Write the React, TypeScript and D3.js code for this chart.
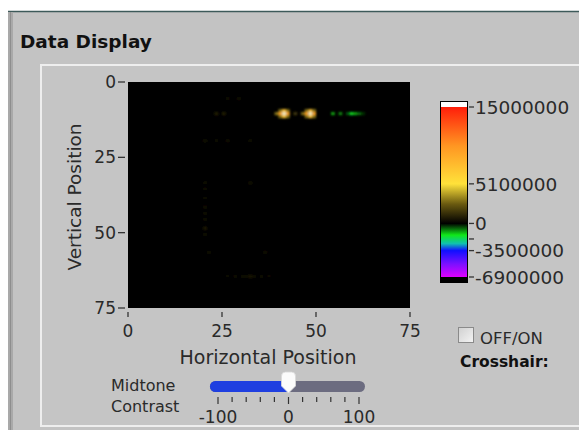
import React, { useEffect, useRef } from 'react';
import * as d3 from 'd3';

// intensity cells [column, row, value]; everything else is 0
const cellCols = [23, 25, 39, 44, 46,
	40, 42, 41, 41, 40, 42, 40, 42, 41,
	47, 49, 48, 48, 47, 49, 47, 49, 48,
	54, 56, 58, 59, 60, 61, 62,
	26, 29, 20, 23, 26, 32,
	20, 20, 20, 20, 20, 20, 20, 20, 32, 21, 36,
	26, 28, 30, 31, 32, 33, 35, 37];
const cellRows = [10, 10, 10, 10, 10,
	10, 10, 9, 11, 9, 9, 11, 11, 10,
	10, 10, 9, 11, 9, 9, 11, 11, 10,
	10, 10, 10, 10, 10, 10, 10,
	5, 5, 19, 19, 19, 19,
	33, 35, 38, 41, 43, 45, 48, 50, 33, 56, 56,
	64, 64, 64, 64, 64, 64, 64, 64];
const cellValues = [0.9e6, 0.9e6, 3.2e6, 1.6e6, 3.0e6,
	9e6, 9e6, 7e6, 7e6, 3e6, 3e6, 3e6, 3e6, 16e6,
	9e6, 9e6, 7e6, 7e6, 3e6, 3e6, 3e6, 3e6, 16e6,
	-1.1e6, -0.9e6, -0.6e6, -1.6e6, -1.1e6, -0.7e6, -0.35e6,
	0.35e6, 0.45e6, 0.55e6, 0.3e6, 0.45e6, 0.3e6,
	0.35e6, 0.3e6, 0.3e6, 0.4e6, 0.35e6, 0.4e6, 0.8e6, 0.4e6, 0.5e6, 0.35e6, 0.45e6,
	0.2e6, 0.25e6, 0.25e6, 0.3e6, 0.7e6, 0.3e6, 0.25e6, 0.2e6];

const axisTicks = [0, 25, 50, 75];

// colour ramp of the intensity scale
const rampValues = [-6.9e6, -5.2e6, -3.5e6, -2.6e6, -1.5e6, 0, 2.5e6, 5.1e6, 10e6, 15e6];
const rampColors = ['#e000ff', '#7a10ff', '#1010ff', '#10c0b0', '#10e818', '#000000', '#6a5a10', '#ffe23a', '#ff9622', '#ff1e0a'];
const barLabels = [15000000, 5100000, 0, -3500000, -6900000];
const barMinorTicks = [-2000000];

const sliderTicks = [-100, -80, -60, -40, -20, 0, 20, 40, 60, 80, 100];
const sliderLabels = [-100, 0, 100];
const sliderValue = 0;

const FONT = 'DejaVu Sans, Verdana, sans-serif';
const TEXT = '#2a2a2a';

export default function App() {
	const ref = useRef<SVGSVGElement>(null);

	useEffect(() => {
		const svg = d3.select(ref.current);
		svg.selectAll('*').remove();

		const color = d3.scaleLinear<string>()
			.domain(rampValues)
			.range(rampColors)
			.interpolate(d3.interpolateRgb)
			.clamp(true);
		// above the top of the scale the graph shows white, below the bottom black
		const colorOf = (v: number) => (v > 15e6 ? '#fff6c8' : v < -6.9e6 ? '#000' : color(v));

		// panels
		svg.append('rect').attr('width', 579).attr('height', 430).attr('fill', '#ffffff');
		svg.append('rect').attr('x', 8).attr('y', 11).attr('width', 571).attr('height', 419).attr('fill', '#c3c3c3');
		svg.append('line').attr('x1', 8).attr('x2', 579).attr('y1', 11.5).attr('y2', 11.5).attr('stroke', '#3d5a5a').attr('stroke-width', 1.5);
		svg.append('rect').attr('x', 8).attr('y', 12).attr('width', 5).attr('height', 418).attr('fill', '#a9a9a9');
		svg.append('line').attr('x1', 10.5).attr('x2', 10.5).attr('y1', 12).attr('y2', 430).attr('stroke', '#8e8e8e');
		svg.append('rect').attr('x', 41).attr('y', 65).attr('width', 545).attr('height', 361)
			.attr('fill', '#c5c5c5').attr('stroke', '#eeeeee').attr('stroke-width', 2);

		svg.append('text').attr('x', 20).attr('y', 48).text('Data Display')
			.attr('font-family', FONT).attr('font-weight', 'bold').attr('font-size', 18.5).attr('fill', '#111');

		// intensity plot
		const margin = { left: 128, top: 82 };
		const innerWidth = 282;
		const innerHeight = 226;
		const xScale = d3.scaleLinear().domain([0, 75]).range([0, innerWidth]);
		const yScale = d3.scaleLinear().domain([0, 75]).range([0, innerHeight]);

		const g = svg.append('g').attr('transform', 'translate(' + margin.left + ',' + margin.top + ')');
		g.append('rect').attr('width', innerWidth).attr('height', innerHeight).attr('fill', colorOf(0));

		const defs = svg.append('defs');
		defs.append('filter').attr('id', 'soft').attr('x', '-50%').attr('y', '-50%').attr('width', '200%').attr('height', '200%')
			.append('feGaussianBlur').attr('stdDeviation', 0.9);
		defs.append('clipPath').attr('id', 'plotclip').append('rect').attr('width', innerWidth).attr('height', innerHeight);

		const cells = cellCols.map((c, i) => ({ c, r: cellRows[i], v: cellValues[i] }))
			.sort((a, b) => Math.abs(a.v) - Math.abs(b.v));
		g.append('g').attr('clip-path', 'url(#plotclip)').append('g').attr('filter', 'url(#soft)')
			.selectAll('rect').data(cells).enter().append('rect')
			.attr('x', d => xScale(d.c))
			.attr('y', d => yScale(d.r))
			.attr('width', xScale(1) - xScale(0))
			.attr('height', yScale(1) - yScale(0))
			.attr('fill', d => colorOf(d.v));

		// axes
		const yAxisG = g.append('g');
		axisTicks.forEach(t => {
			yAxisG.append('line').attr('x1', -10).attr('x2', -3).attr('y1', yScale(t)).attr('y2', yScale(t))
				.attr('stroke', '#333').attr('stroke-width', 1.3);
			yAxisG.append('text').attr('x', -12).attr('y', yScale(t)).attr('dy', '0.36em').attr('text-anchor', 'end')
				.attr('font-family', FONT).attr('font-size', 17).attr('fill', TEXT).text(t);
		});
		const xAxisG = g.append('g').attr('transform', 'translate(0,' + innerHeight + ')');
		axisTicks.forEach(t => {
			xAxisG.append('line').attr('x1', xScale(t)).attr('x2', xScale(t)).attr('y1', 4).attr('y2', 9)
				.attr('stroke', '#333').attr('stroke-width', 1.3);
			xAxisG.append('text').attr('x', xScale(t)).attr('y', 29).attr('text-anchor', 'middle')
				.attr('font-family', FONT).attr('font-size', 17).attr('fill', TEXT).text(t);
		});
		svg.append('text').attr('x', 268).attr('y', 364).attr('text-anchor', 'middle')
			.attr('font-family', FONT).attr('font-size', 19).attr('fill', TEXT).text('Horizontal Position');
		svg.append('text').attr('transform', 'translate(81,197) rotate(-90)').attr('text-anchor', 'middle')
			.attr('font-family', FONT).attr('font-size', 18.5).attr('fill', TEXT).text('Vertical Position');

		// colour bar
		const barScale = d3.scaleLinear().domain([-6.9e6, 15e6]).range([277, 107]);
		const grad = defs.append('linearGradient').attr('id', 'ramp')
			.attr('gradientUnits', 'userSpaceOnUse').attr('x1', 0).attr('x2', 0)
			.attr('y1', barScale(-6.9e6)).attr('y2', barScale(15e6));
		rampValues.forEach((v, i) => {
			grad.append('stop').attr('offset', (v + 6.9e6) / 21.9e6).attr('stop-color', rampColors[i]);
		});
		const barX = 441;
		const barW = 26;
		svg.append('rect').attr('x', barX - 1).attr('y', 101).attr('width', barW + 2).attr('height', 182).attr('fill', '#000');
		svg.append('rect').attr('x', barX).attr('y', 102).attr('width', barW).attr('height', barScale(15e6) - 102).attr('fill', '#ffffff');
		svg.append('rect').attr('x', barX).attr('y', barScale(15e6)).attr('width', barW)
			.attr('height', barScale(-6.9e6) - barScale(15e6)).attr('fill', 'url(#ramp)');
		barLabels.concat(barMinorTicks).forEach(t => {
			svg.append('line').attr('x1', 469).attr('x2', 474).attr('y1', barScale(t)).attr('y2', barScale(t))
				.attr('stroke', '#333').attr('stroke-width', 1.3);
		});
		barLabels.forEach(t => {
			svg.append('text').attr('x', 475).attr('y', barScale(t)).attr('dy', '0.36em')
				.attr('font-family', FONT).attr('font-size', 18.5).attr('fill', TEXT).text(t);
		});

		// crosshair checkbox
		const cb = defs.append('linearGradient').attr('id', 'cbfill').attr('x1', 0).attr('x2', 1).attr('y1', 0).attr('y2', 1);
		cb.append('stop').attr('offset', 0).attr('stop-color', '#d0d0d0');
		cb.append('stop').attr('offset', 1).attr('stop-color', '#f4f4f4');
		svg.append('rect').attr('x', 458.5).attr('y', 327.5).attr('width', 15).attr('height', 15)
			.attr('fill', 'url(#cbfill)').attr('stroke', '#8a8a8a');
		svg.append('text').attr('x', 480).attr('y', 344).attr('font-family', FONT).attr('font-size', 16.5)
			.attr('fill', TEXT).text('OFF/ON');
		svg.append('text').attr('x', 460).attr('y', 367).attr('font-family', FONT).attr('font-weight', 'bold')
			.attr('font-size', 15.5).attr('fill', '#111').text('Crosshair:');

		// midtone contrast slider
		svg.append('text').attr('x', 111).attr('y', 391).attr('font-family', FONT).attr('font-size', 16)
			.attr('fill', TEXT).text('Midtone');
		svg.append('text').attr('x', 111).attr('y', 412).attr('font-family', FONT).attr('font-size', 16)
			.attr('fill', TEXT).text('Contrast');
		const sScale = d3.scaleLinear().domain([-100, 100]).range([218, 359]);
		const sx = sScale(sliderValue);
		svg.append('rect').attr('x', 210).attr('y', 381).attr('width', 155).attr('height', 11).attr('rx', 5.5).attr('fill', '#6c6c80');
		svg.append('path').attr('d', 'M215.5,381 H' + sx + ' V392 H215.5 A5.5,5.5 0 0 1 215.5,381 Z').attr('fill', '#1f3fe0');
		svg.append('path')
			.attr('d', 'M' + (sx - 7) + ',376 Q' + (sx - 7) + ',372 ' + (sx - 3) + ',372 H' + (sx + 3) + ' Q' + (sx + 7) + ',372 ' + (sx + 7) + ',376 V386 L' + sx + ',393 L' + (sx - 7) + ',386 Z')
			.attr('fill', '#fbfbfb').attr('stroke', '#d8d8d8').attr('stroke-width', 0.8);
		sliderTicks.forEach(t => {
			const major = sliderLabels.indexOf(t) >= 0;
			svg.append('line').attr('x1', sScale(t)).attr('x2', sScale(t)).attr('y1', 397).attr('y2', major ? 404 : 402)
				.attr('stroke', '#333').attr('stroke-width', 1.2);
		});
		sliderLabels.forEach(t => {
			svg.append('text').attr('x', sScale(t)).attr('y', 423).attr('text-anchor', 'middle')
				.attr('font-family', FONT).attr('font-size', 17).attr('fill', TEXT).text(t);
		});
	}, []);

	return (
		<div style={{ position: 'fixed', left: 0, top: 0 }}>
			<svg ref={ref} width={579} height={430} style={{ display: 'block' }} />
		</div>
	);
}
